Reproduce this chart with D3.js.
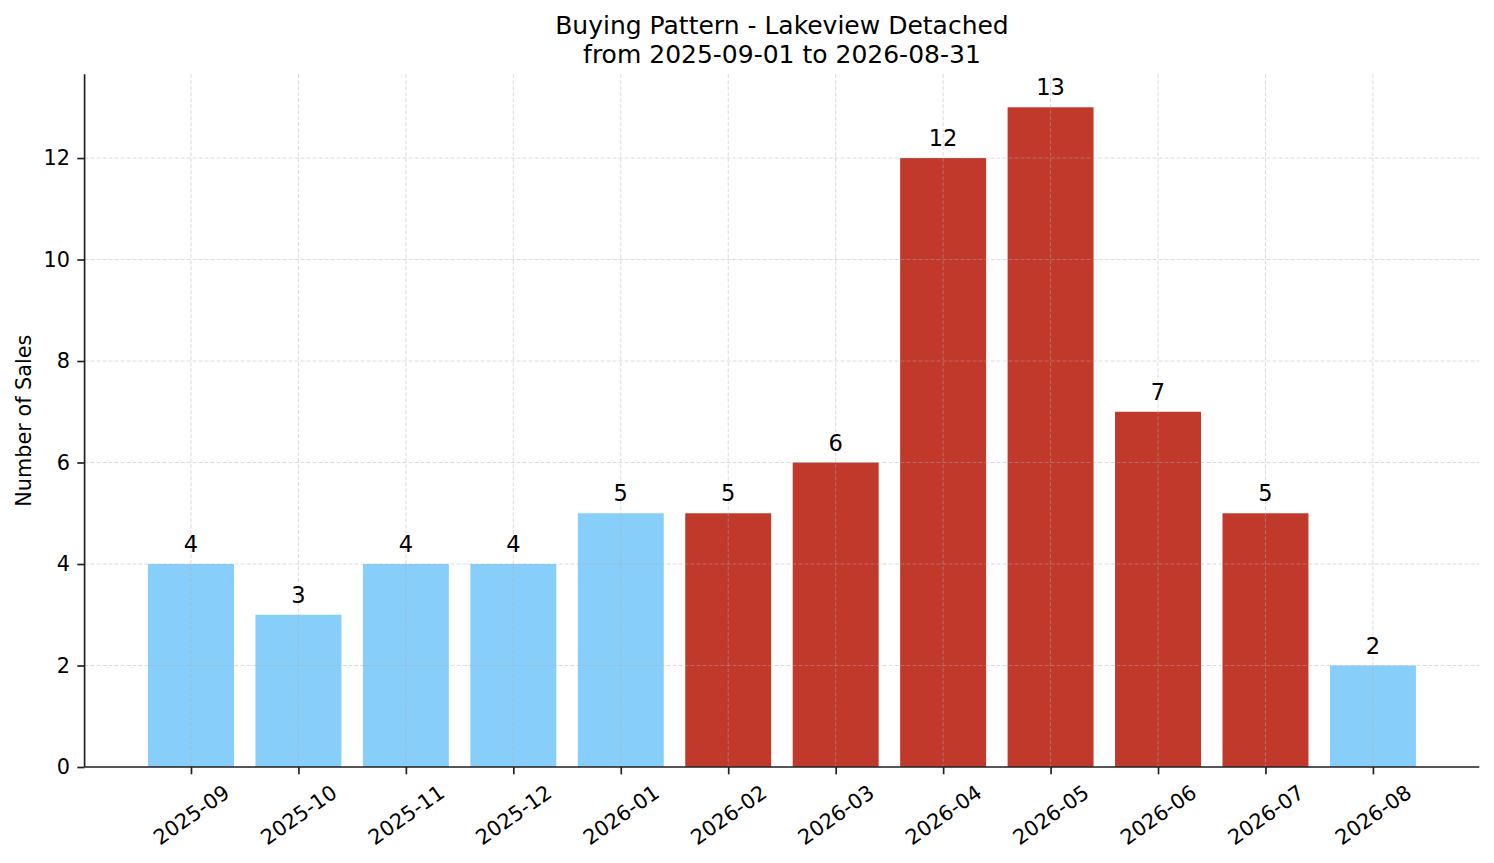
<!DOCTYPE html>
<html>
<head>
<meta charset="utf-8">
<script src="https://cdn.jsdelivr.net/npm/d3@7/dist/d3.min.js"></script>
<style>
  html, body { margin: 0; padding: 0; background: #fff; }
  svg { display: block; font-family: "DejaVu Sans", sans-serif; }
</style>
</head>
<body>
<svg id="chart" width="1494" height="863"></svg>
<script>
// data
var months = ["2025-09", "2025-10", "2025-11", "2025-12", "2026-01", "2026-02",
              "2026-03", "2026-04", "2026-05", "2026-06", "2026-07", "2026-08"];
var sales = [4, 3, 4, 4, 5, 5, 6, 12, 13, 7, 5, 2];
var peakMonths = ["2026-02", "2026-03", "2026-04", "2026-05", "2026-06", "2026-07"];
var yTicks = [0, 2, 4, 6, 8, 10, 12];
var titleLines = ["Buying Pattern - Lakeview Detached", "from 2025-09-01 to 2026-08-31"];

var svg = d3.select("#chart"),
    margin = {top: 74.3, right: 14.7, bottom: 96, left: 84.6},
    width = +svg.attr("width") - margin.left - margin.right,
    height = +svg.attr("height") - margin.top - margin.bottom,
    g = svg.append("g").attr("transform", "translate(" + margin.left + "," + margin.top + ")");

var barWidth = 0.8;
// matplotlib-style 5% margins around the bars
var xPad = (months.length - 1 + barWidth) * 0.05;
var x = d3.scaleLinear()
    .domain([-barWidth / 2 - xPad, months.length - 1 + barWidth / 2 + xPad])
    .range([0, width]);

var y = d3.scaleLinear()
    .domain([0, d3.max(sales) * 1.05])
    .range([height, 0]);

var color = function(m) { return peakMonths.indexOf(m) >= 0 ? "#C0392B" : "#87CEFA"; };

// bars
g.append("g")
  .selectAll("rect")
  .data(months)
  .enter().append("rect")
    .attr("x", function(d, i) { return x(i - barWidth / 2); })
    .attr("y", function(d, i) { return y(sales[i]); })
    .attr("width", function(d, i) { return x(i + barWidth / 2) - x(i - barWidth / 2); })
    .attr("height", function(d, i) { return y(0) - y(sales[i]); })
    .attr("fill", color);

// grid on top of bars, light and dashed
var grid = g.append("g")
    .attr("stroke", "#b0b0b0")
    .attr("stroke-opacity", 0.5)
    .attr("stroke-width", 0.9)
    .attr("stroke-dasharray", "4,2");

grid.selectAll(".hgrid")
  .data(yTicks)
  .enter().append("line")
    .attr("class", "hgrid")
    .attr("x1", 0).attr("x2", width)
    .attr("y1", function(d) { return y(d); })
    .attr("y2", function(d) { return y(d); });

grid.selectAll(".vgrid")
  .data(months)
  .enter().append("line")
    .attr("class", "vgrid")
    .attr("y1", 0).attr("y2", height)
    .attr("x1", function(d, i) { return x(i); })
    .attr("x2", function(d, i) { return x(i); });

// value labels
g.append("g")
    .attr("text-anchor", "middle")
    .attr("font-size", "22.5px")
    .attr("fill", "#000")
  .selectAll("text")
  .data(months)
  .enter().append("text")
    .attr("x", function(d, i) { return x(i); })
    .attr("y", function(d, i) { return y(sales[i]) - 12; })
    .text(function(d, i) { return sales[i]; });

// y axis
var yAxis = g.append("g")
    .call(d3.axisLeft(y).tickValues(yTicks).tickSize(7.3).tickPadding(7.3).tickFormat(d3.format("d")));
yAxis.selectAll(".tick text")
    .attr("font-size", "20.8px")
    .attr("font-family", "DejaVu Sans")
    .attr("fill", "#000");

// x axis
var xAxis = g.append("g")
    .attr("transform", "translate(0," + height + ")")
    .call(d3.axisBottom(x).tickValues(d3.range(months.length)).tickSize(7.3)
      .tickFormat(function(i) { return months[i]; }));
xAxis.selectAll(".tick text")
    .attr("font-size", "20.8px")
    .attr("font-family", "DejaVu Sans")
    .attr("fill", "#000")
    .attr("dy", null)
    .attr("dominant-baseline", "central")
    .attr("y", 0)
    .attr("transform", function() {
      var w = this.getComputedTextLength(),
          a = 35 * Math.PI / 180,
          cy = 14.6 + (w * Math.sin(a) + 20.8 * Math.cos(a)) / 2;
      return "translate(0," + cy + ") rotate(-35)";
    });

[yAxis, xAxis].forEach(function(ax) {
  ax.select(".domain").attr("stroke", "#222").attr("stroke-width", 1.7);
  ax.selectAll(".tick line").attr("stroke", "#222").attr("stroke-width", 1.7);
});
// matplotlib draws the spines without the end caps of d3's domain path
yAxis.select(".domain").attr("d", "M0," + height + "V0");
xAxis.select(".domain").attr("d", "M0,0H" + width);

// axis label
g.append("text")
    .attr("transform", "translate(" + (31 - margin.left) + "," + (height / 2) + ") rotate(-90)")
    .attr("text-anchor", "middle")
    .attr("font-size", "20.8px")
    .attr("fill", "#000")
    .text("Number of Sales");

// title
svg.append("g")
    .attr("text-anchor", "middle")
    .attr("font-size", "25px")
    .attr("fill", "#000")
  .selectAll("text")
  .data(titleLines)
  .enter().append("text")
    .attr("x", margin.left + width / 2)
    .attr("y", function(d, i) { return 34 + i * 28.5; })
    .text(function(d) { return d; });
</script>
</body>
</html>
